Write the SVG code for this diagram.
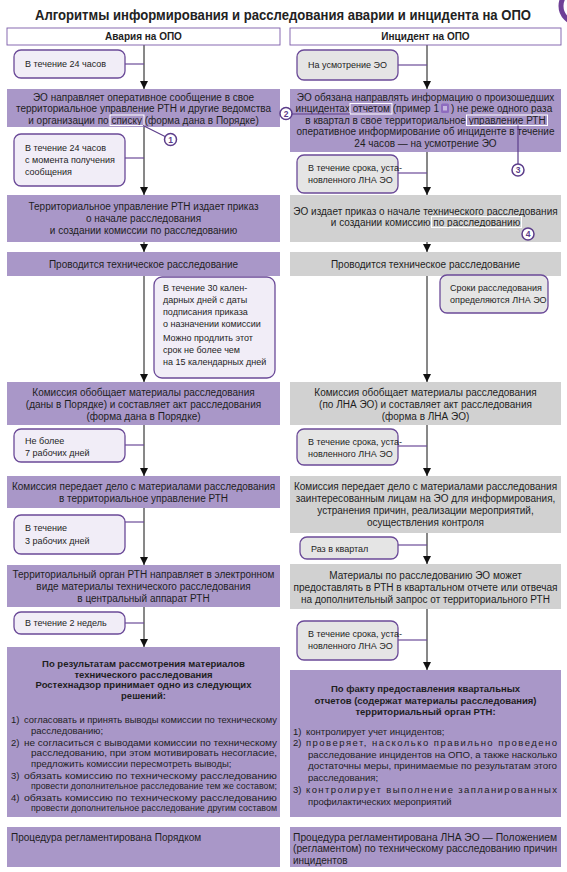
<svg xmlns="http://www.w3.org/2000/svg" width="567" height="872" viewBox="0 0 567 872">
<defs>
<style>
.bp{fill:#a997c8}
.bg{fill:#d1d1d1}
.hdr{fill:#fff;stroke:#7a5aa8;stroke-width:0.9}
.ubp{fill:#f1edf7;stroke:#6b4a98;stroke-width:1.3}
.ubg{fill:#e5e5e5;stroke:#6b4a98;stroke-width:1.3}
text{font-family:"Liberation Sans",Arial,sans-serif;font-size:10px;fill:#1e1e1e}
.c{text-anchor:middle}
.e{text-anchor:end}
.b{font-weight:bold}
.s{font-size:9px}
.i{font-size:9.5px}
.n{font-size:9px}
.bb{font-weight:bold;font-size:9.5px}
.ttl{font-weight:bold;font-size:14px;fill:#222}
.stub{stroke:#6b4a98;stroke-width:1.2}
.ln{stroke:#111;stroke-width:1;marker-end:url(#ah)}
.hl{fill:none;stroke:#fff;stroke-width:1}
.mkc{fill:#fff;stroke:#5c3d8a;stroke-width:1.5}
.mkt{font-size:8.5px;font-weight:bold;fill:#5c3d8a;text-anchor:middle}
.mkl{stroke:#5c3d8a;stroke-width:1.2;fill:none}
</style>
<marker id="ah" viewBox="0 0 8 8" refX="8" refY="4" markerWidth="8" markerHeight="8" markerUnits="userSpaceOnUse" orient="auto">
<path d="M0,0 L8,4 L0,8 z" fill="#111"/>
</marker>
</defs>
<rect width="567" height="872" fill="#fff"/>
<circle cx="578" cy="6" r="17" fill="none" stroke="#6f3f96" stroke-width="5"/>
<text class="ttl c" x="283" y="20" textLength="496" lengthAdjust="spacingAndGlyphs">Алгоритмы информирования и расследования аварии и инцидента на ОПО</text>

<g id="connectors">
<line class="ln" x1="144" y1="45" x2="144" y2="89"/>
<line class="ln" x1="144" y1="127" x2="144" y2="195"/>
<line class="ln" x1="144" y1="242" x2="144" y2="252"/>
<line class="ln" x1="144" y1="276" x2="144" y2="382"/>
<line class="ln" x1="144" y1="425" x2="144" y2="476"/>
<line class="ln" x1="144" y1="508" x2="144" y2="565"/>
<line class="ln" x1="144" y1="607" x2="144" y2="647"/>
<line class="ln" x1="427" y1="45" x2="427" y2="89"/>
<line class="ln" x1="427" y1="152" x2="427" y2="195"/>
<line class="ln" x1="427" y1="242" x2="427" y2="252"/>
<line class="ln" x1="427" y1="276" x2="427" y2="382"/>
<line class="ln" x1="427" y1="425" x2="427" y2="476"/>
<line class="ln" x1="427" y1="533" x2="427" y2="564"/>
<line class="ln" x1="427" y1="609" x2="427" y2="670"/>
<line class="stub" x1="125" y1="64" x2="144" y2="64"/>
<line class="stub" x1="125" y1="158" x2="144" y2="158"/>
<line class="stub" x1="125" y1="445" x2="144" y2="445"/>
<line class="stub" x1="124" y1="522" x2="144" y2="522"/>
<line class="stub" x1="125" y1="623" x2="144" y2="623"/>
<line class="stub" x1="398" y1="65" x2="427" y2="65"/>
<line class="stub" x1="398" y1="173" x2="427" y2="173"/>
<line class="stub" x1="398" y1="446" x2="427" y2="446"/>
<line class="stub" x1="398" y1="545" x2="427" y2="545"/>
<line class="stub" x1="398" y1="640" x2="427" y2="640"/>
</g>

<g id="hdr-left"><rect class="hdr" x="7" y="28" width="273" height="17"/><text class="b c" x="143.5" y="40">Авария на ОПО</text></g>
<g id="hdr-right"><rect class="hdr" x="290" y="28" width="271" height="17"/><text class="b c" x="425.5" y="40">Инцидент на ОПО</text></g>

<g id="bubL1"><rect class="ubp" x="14" y="50" width="111" height="28" rx="7"/><text class="s" x="25" y="67">В течение 24 часов</text></g>
<g id="bubR1"><rect class="ubg" x="297" y="50" width="101" height="30" rx="7"/><text class="s" x="308" y="68">На усмотрение ЭО</text></g>

<g id="boxL1"><rect class="bp" x="7" y="89" width="273" height="38"/>
<text class="c" x="143.5" y="100.5">ЭО направляет оперативное сообщение в свое</text>
<text class="c" x="143.5" y="112">территориальное управление РТН и другие ведомства</text>
<text class="c" x="143.5" y="123.5">и организации по списку (форма дана в Порядке)</text>
<rect class="hl" x="110" y="115" width="34" height="10.5"/>
</g>
<g id="boxR1"><rect class="bp" x="290" y="89" width="271" height="63"/>
<text class="c" x="425.5" y="100.5">ЭО обязана направлять информацию о произошедших</text>
<text class="e" x="439" y="112">инцидентах отчетом (пример 1</text>
<rect x="441" y="103.5" width="8" height="9.5" rx="1.5" fill="#8e6cbf"/>
<rect x="443" y="106" width="4" height="4.5" fill="#c7b6e0"/>
<text x="451" y="112">) не реже одного раза</text>
<text class="c" x="425.5" y="123.5">в квартал в свое территориальное управление РТН</text>
<text class="c" x="425.5" y="135">оперативное информирование об инциденте в течение</text>
<text class="c" x="425.5" y="146.5">24 часов — на усмотрение ЭО</text>
<rect class="hl" x="350" y="103.5" width="42" height="10.5"/>
<rect class="hl" x="466.5" y="115" width="81" height="10.5"/>
</g>

<g id="marker1"><line class="mkl" x1="143" y1="125.5" x2="165" y2="136.5"/><circle class="mkc" cx="170.5" cy="139.5" r="6"/><text class="mkt" x="170.5" y="142.5">1</text></g>
<g id="marker2"><line class="mkl" x1="292" y1="114" x2="350" y2="114"/><circle class="mkc" cx="286" cy="113.5" r="6"/><text class="mkt" x="286" y="116.5">2</text></g>
<g id="marker3"><line class="mkl" x1="518" y1="125.5" x2="518" y2="164"/><circle class="mkc" cx="518" cy="170" r="6"/><text class="mkt" x="518" y="173">3</text></g>

<g id="bubL2"><rect class="ubp" x="14" y="134" width="111" height="52" rx="7"/>
<text class="s" x="25" y="151">В течение 24 часов</text>
<text class="s" x="25" y="163">с момента получения</text>
<text class="s" x="25" y="175">сообщения</text></g>
<g id="bubR2"><rect class="ubg" x="297" y="155" width="101" height="38" rx="7"/>
<text class="s" x="308" y="171">В течение срока, уста-</text>
<text class="s" x="308" y="183">новленного ЛНА ЭО</text></g>

<g id="boxL2"><rect class="bp" x="7" y="195" width="273" height="47"/>
<text class="c" x="143.5" y="210">Территориальное управление РТН издает приказ</text>
<text class="c" x="143.5" y="222">о начале расследования</text>
<text class="c" x="143.5" y="234">и создании комиссии по расследованию</text></g>
<g id="boxR2"><rect class="bg" x="290" y="195" width="271" height="47"/>
<text class="c" x="425.5" y="214.5">ЭО издает приказ о начале технического расследования</text>
<text class="c" x="425.5" y="226">и создании комиссию по расследованию</text>
<rect class="hl" x="431.5" y="216.5" width="90" height="11"/></g>
<g id="marker4"><circle class="mkc" cx="528" cy="234" r="6"/><text class="mkt" x="528" y="237">4</text></g>

<g id="boxL3"><rect class="bp" x="7" y="252" width="273" height="24"/><text class="c" x="143.5" y="267.5">Проводится техническое расследование</text></g>
<g id="boxR3"><rect class="bg" x="290" y="252" width="271" height="24"/><text class="c" x="425.5" y="267.5">Проводится техническое расследование</text></g>

<g id="bubL3"><rect class="ubp" x="154" y="277" width="121" height="101" rx="8"/>
<text class="s" x="163" y="291">В течение 30 кален-</text>
<text class="s" x="163" y="303">дарных дней с даты</text>
<text class="s" x="163" y="315">подписания приказа</text>
<text class="s" x="163" y="327">о назначении комиссии</text>
<text class="s" x="163" y="341">Можно продлить этот</text>
<text class="s" x="163" y="353">срок не более чем</text>
<text class="s" x="163" y="365">на 15 календарных дней</text></g>
<g id="bubR3"><rect class="ubg" x="440" y="275" width="108" height="38" rx="7"/>
<text class="s" x="450" y="291">Сроки расследования</text>
<text class="s" x="450" y="303">определяются ЛНА ЭО</text></g>

<g id="boxL4"><rect class="bp" x="7" y="382" width="273" height="43"/>
<text class="c" x="143.5" y="395.5">Комиссия обобщает материалы расследования</text>
<text class="c" x="143.5" y="407.5">(даны в Порядке) и составляет акт расследования</text>
<text class="c" x="143.5" y="419.5">(форма дана в Порядке)</text></g>
<g id="boxR4"><rect class="bg" x="290" y="382" width="271" height="43"/>
<text class="c" x="425.5" y="395.5">Комиссия обобщает материалы расследования</text>
<text class="c" x="425.5" y="407.5">(по ЛНА ЭО) и составляет акт расследования</text>
<text class="c" x="425.5" y="419.5">(форма в ЛНА ЭО)</text></g>

<g id="bubL4"><rect class="ubp" x="14" y="429" width="111" height="33" rx="7"/>
<text class="s" x="25" y="444">Не более</text>
<text class="s" x="25" y="456">7 рабочих дней</text></g>
<g id="bubR4"><rect class="ubg" x="297" y="429" width="101" height="36" rx="7"/>
<text class="s" x="308" y="445">В течение срока, уста-</text>
<text class="s" x="308" y="457">новленного ЛНА ЭО</text></g>

<g id="boxL5"><rect class="bp" x="7" y="476" width="273" height="32"/>
<text class="c" x="143.5" y="489.5">Комиссия передает дело с материалами расследования</text>
<text class="c" x="143.5" y="501.5">в территориальное управление РТН</text></g>
<g id="boxR5"><rect class="bg" x="290" y="476" width="271" height="57"/>
<text class="c" x="425.5" y="489.5">Комиссия передает дело с материалами расследования</text>
<text class="c" x="425.5" y="501.5">заинтересованным лицам на ЭО для информирования,</text>
<text class="c" x="425.5" y="513.5">устранения причин, реализации мероприятий,</text>
<text class="c" x="425.5" y="525.5">осуществления контроля</text></g>

<g id="bubL5"><rect class="ubp" x="14" y="515" width="111" height="39" rx="7"/>
<text class="s" x="25" y="531">В течение</text>
<text class="s" x="25" y="544">3 рабочих дней</text></g>
<g id="bubR5"><rect class="ubg" x="300" y="537" width="98" height="22" rx="7"/>
<text class="s" x="311" y="551.5">Раз в квартал</text></g>

<g id="boxL6"><rect class="bp" x="7" y="565" width="273" height="42"/>
<text class="c" x="143.5" y="577.5">Территориальный орган РТН направляет в электронном</text>
<text class="c" x="143.5" y="589.5">виде материалы технического расследования</text>
<text class="c" x="143.5" y="601.5">в центральный аппарат РТН</text></g>
<g id="boxR6"><rect class="bg" x="290" y="564" width="271" height="45"/>
<text class="c" x="425.5" y="578.5">Материалы по расследованию ЭО  может</text>
<text class="c" x="425.5" y="590.5" textLength="264" lengthAdjust="spacingAndGlyphs">предоставлять в РТН в квартальном отчете или  отвечая</text>
<text class="c" x="425.5" y="602.5">на дополнительный  запрос от территориального  РТН</text></g>

<g id="bubL6"><rect class="ubp" x="14" y="612" width="111" height="22" rx="7"/>
<text class="s" x="25" y="626">В течение 2 недель</text></g>
<g id="bubR6"><rect class="ubg" x="297" y="621" width="101" height="39" rx="7"/>
<text class="s" x="308" y="637">В течение срока, уста-</text>
<text class="s" x="308" y="649">новленного ЛНА ЭО</text></g>

<g id="boxL7"><rect class="bp" x="7" y="647" width="273" height="170"/>
<text class="bb c" x="143.5" y="666.5">По результатам рассмотрения материалов</text>
<text class="bb c" x="143.5" y="677.5">технического расследования</text>
<text class="bb c" x="143.5" y="688">Ростехнадзор принимает одно из следующих</text>
<text class="bb c" x="143.5" y="698.5">решений:</text>
<text class="i" x="11" y="722.5">1)</text>
<text class="i" x="24" y="722.5" textLength="253" lengthAdjust="spacingAndGlyphs">согласовать и принять выводы комиссии по техническому</text>
<text class="i" x="31" y="733.5">расследованию;</text>
<text class="i" x="11" y="745.5">2)</text>
<text class="i" x="24" y="745.5" textLength="253" lengthAdjust="spacingAndGlyphs">не согласиться с выводами комиссии по техническому</text>
<text class="i" x="31" y="756" textLength="246" lengthAdjust="spacingAndGlyphs">расследованию, при этом мотивировать несогласие,</text>
<text class="i" x="31" y="766.5">предложить комиссии пересмотреть выводы;</text>
<text class="i" x="11" y="778.5">3)</text>
<text class="i" x="24" y="778.5" textLength="253" lengthAdjust="spacingAndGlyphs">обязать комиссию по техническому расследованию</text>
<text class="n" x="31" y="789" textLength="246" lengthAdjust="spacingAndGlyphs">провести дополнительное расследование тем же составом;</text>
<text class="i" x="11" y="800.5">4)</text>
<text class="i" x="24" y="800.5" textLength="253" lengthAdjust="spacingAndGlyphs">обязать комиссию по техническому расследованию</text>
<text class="n" x="31" y="811" textLength="246" lengthAdjust="spacingAndGlyphs">провести дополнительное расследование другим составом</text></g>

<g id="boxR7"><rect class="bp" x="290" y="670" width="271" height="147"/>
<text class="bb c" x="425.5" y="692">По факту предоставления квартальных</text>
<text class="bb c" x="425.5" y="703.5">отчетов (содержат материалы расследования)</text>
<text class="bb c" x="425.5" y="715">территориальный  орган РТН:</text>
<text class="i" x="293" y="734.5">1)<tspan x="306">контролирует учет инцидентов;</tspan></text>
<text class="i" x="293" y="746">2)<tspan x="306" textLength="251" lengthAdjust="spacing">проверяет, насколько правильно проведено</tspan></text>
<text class="i" x="308" y="757.5" textLength="249" lengthAdjust="spacingAndGlyphs">расследование инцидентов на ОПО, а также насколько</text>
<text class="i" x="308" y="769" textLength="249" lengthAdjust="spacingAndGlyphs">достаточны меры, принимаемые по результатам этого</text>
<text class="i" x="308" y="780.5">расследования;</text>
<text class="i" x="293" y="793">3)<tspan x="306" textLength="251" lengthAdjust="spacing">контролирует выполнение запланированных</tspan></text>
<text class="i" x="308" y="804.5">профилактических мероприятий</text></g>

<g id="boxL8"><rect class="bp" x="7" y="827" width="273" height="40"/>
<text x="11" y="840.5">Процедура регламентирована Порядком</text></g>
<g id="boxR8"><rect class="bp" x="290" y="827" width="271" height="40"/>
<text x="293" y="840.5" textLength="264" lengthAdjust="spacingAndGlyphs">Процедура регламентирована ЛНА ЭО — Положением</text>
<text x="293" y="852" textLength="264" lengthAdjust="spacingAndGlyphs">(регламентом) по техническому расследованию причин</text>
<text x="293" y="863.5">инцидентов</text></g>
</svg>
